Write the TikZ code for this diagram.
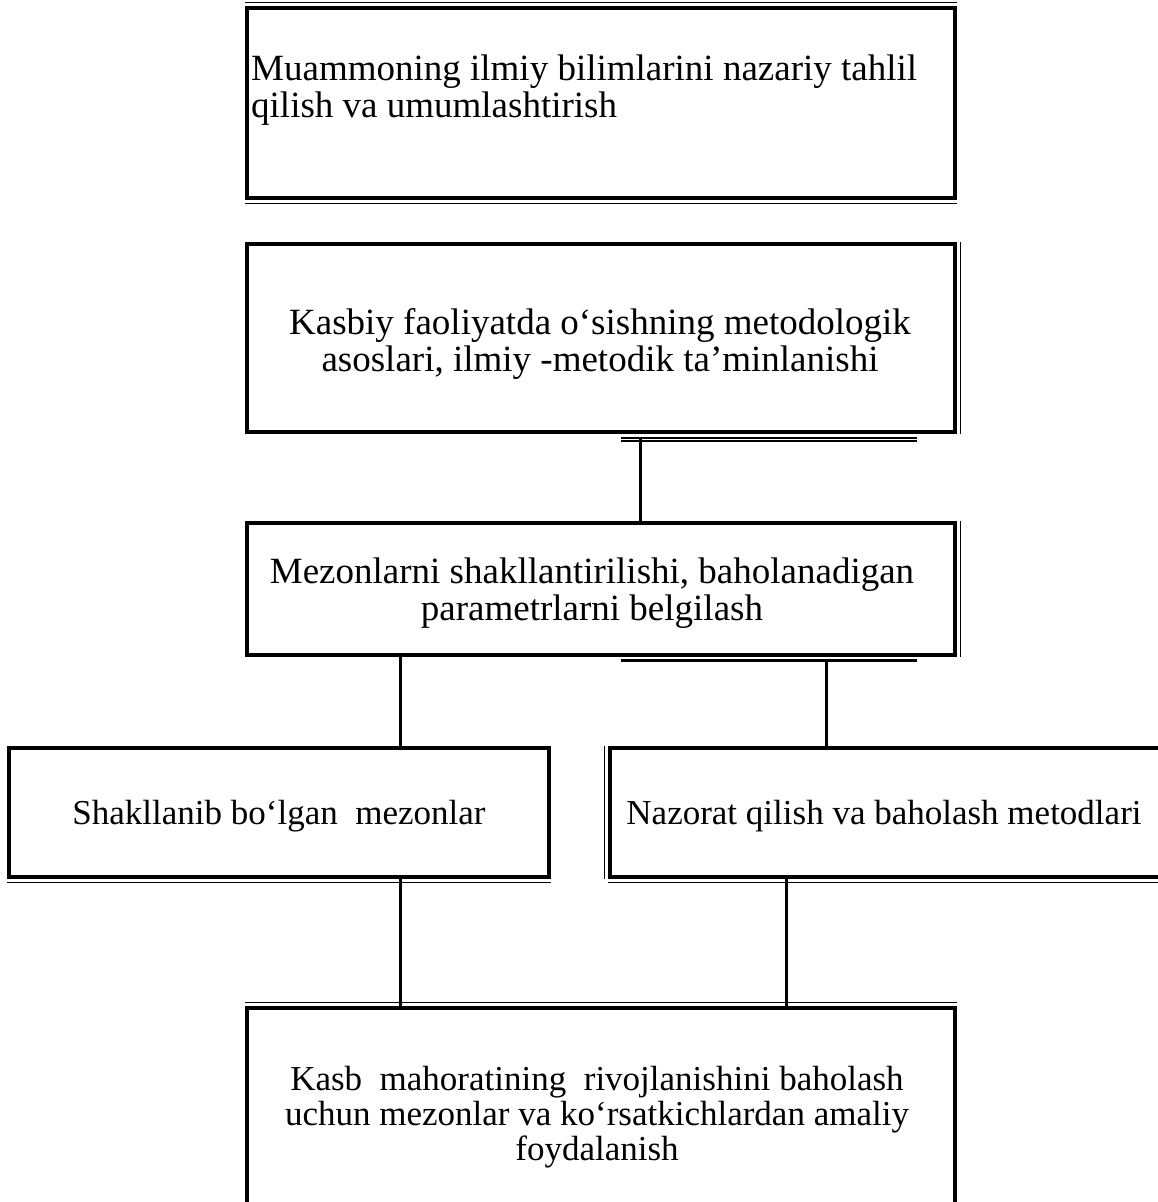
\documentclass[tikz,border=0pt]{standalone}
\usepackage{fontspec}
\setmainfont{Liberation Serif}
\begin{document}
\begin{tikzpicture}[x=1pt,y=-1pt,
  frame/.style={draw, line width=3.5pt, inner sep=0pt},
  thin/.style={line width=1.3pt},
  link/.style={line width=3pt},
  big/.style={font=\fontsize{37}{37}\selectfont, align=center, inner sep=0pt},
  small/.style={font=\fontsize{35}{35}\selectfont, align=center, inner sep=0pt}]
\useasboundingbox (0,0) rectangle (1158,1202);

% boxes
\node[frame, minimum width=708pt, minimum height=190pt] (b1) at (601,103) {};
\node[frame, minimum width=708pt, minimum height=188pt] (b2) at (601,338) {};
\node[frame, minimum width=708pt, minimum height=132pt] (b3) at (601,589) {};
\node[frame, minimum width=540pt, minimum height=129pt] (b4) at (279,812.5) {};
\node[frame, minimum width=553pt, minimum height=129pt] (b5) at (886.5,812.5) {};
\node[frame, minimum width=708pt, minimum height=210pt] (b6) at (601,1113) {};

% texts
\node[big, align=left, anchor=north west] (t1) at (251,55)
  {Muammoning ilmiy bilimlarini nazariy tahlil\\qilish va umumlashtirish};
\node[big] (t2) at (600,344)
  {Kasbiy faoliyatda o‘sishning metodologik\\asoslari, ilmiy -metodik ta’minlanishi};
\node[big] (t3) at (592,593)
  {Mezonlarni shakllantirilishi, baholanadigan\\parametrlarni belgilash};
\node[small] (t4) at (279,816) {Shakllanib bo‘lgan\ \ mezonlar};
\node[small] (t5) at (884,816) {Nazorat qilish va baholash metodlari};
\node[small] (t6) at (597,1117)
  {Kasb\ \ mahoratining\ \ rivojlanishini baholash\\uchun mezonlar va ko‘rsatkichlardan amaliy\\foydalanish};

% outer hairlines doubling some of the frames
\draw[thin] ([yshift=4pt]b1.north west) -- ([yshift=4pt]b1.north east);
\draw[thin] ([yshift=-4pt]b1.south west) -- ([yshift=-4pt]b1.south east);
\draw[thin] ([xshift=4pt]b2.north east) -- ([xshift=4pt]b2.south east);
\draw[thin] ([xshift=4pt]b3.north east) -- ([xshift=4pt]b3.south east);
\draw[thin] ([yshift=-4pt]b4.south west) -- ([yshift=-4pt]b4.south east);
\draw[thin] ([xshift=-4pt]b5.north west) -- ([xshift=-4pt]b5.south west);
\draw[thin] ([yshift=-4pt]b5.south west) -- ([yshift=-4pt]b5.south east);
\draw[thin] ([yshift=4pt]b6.north west) -- ([yshift=4pt]b6.north east);

% ledges under the upper boxes
\coordinate (l2a) at (621,438);
\coordinate (l2b) at (917,438);
\draw[thin] (l2a) -- (l2b);
\draw[thin] ([yshift=-3pt]l2a) -- ([yshift=-3pt]l2b);
\coordinate (l3a) at (621,660);
\coordinate (l3b) at (917,660);
\draw[link] (l3a) -- (l3b);

% connectors
\draw[link] (640,438) -- (b3.north -| 640,0);
\draw[link] (b3.south -| 400,0) -- (b4.north -| 400,0);
\draw[link] (826,660) -- (b5.north -| 826,0);
\draw[link] (b4.south -| 400,0) -- (b6.north -| 400,0);
\draw[link] (b5.south -| 786,0) -- (b6.north -| 786,0);
\end{tikzpicture}
\end{document}
